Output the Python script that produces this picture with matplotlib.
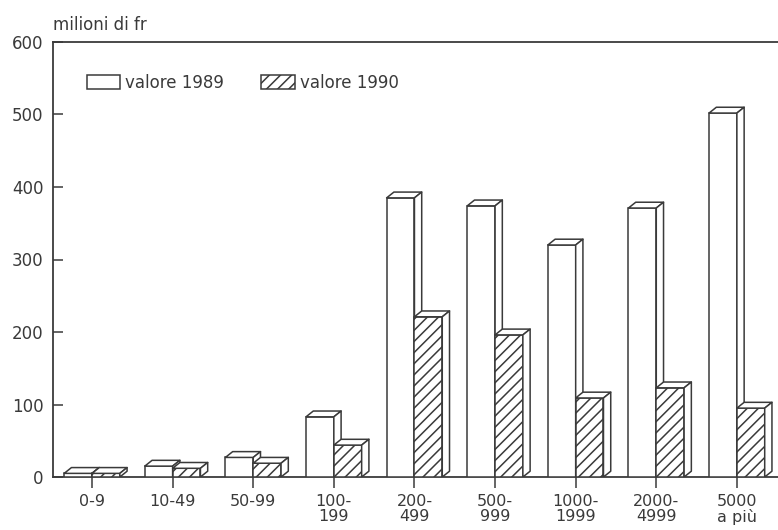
import matplotlib.pyplot as plt
from matplotlib.patches import Polygon, Patch

# classi di ampiezza e valori (milioni di franchi)
classi = ['0-9', '10-49', '50-99', '100-\n199', '200-\n499', '500-\n999',
          '1000-\n1999', '2000-\n4999', '5000\na più']
valore_1989 = [5, 15, 27, 83, 385, 374, 320, 371, 502]
valore_1990 = [5, 12, 19, 44, 221, 196, 109, 123, 95]

INK = '#3a3a3a'
W = 0.345      # larghezza faccia frontale
DX = 0.09      # profondita' orizzontale
DY = 8         # profondita' verticale (unita' dati)

plt.rcParams['font.family'] = ['DejaVu Sans']
plt.rcParams['hatch.linewidth'] = 1.1
plt.rcParams['hatch.color'] = INK

fig = plt.figure(figsize=(7.78, 5.30), dpi=100)
ax = fig.add_axes([53 / 778, 53 / 530, 725 / 778, 435 / 530])


def bar3d(x0, h, hatch, z):
    ax.bar(x0, h, width=W, align='edge', facecolor='white', edgecolor=INK,
           linewidth=1.1, hatch=hatch, zorder=z)
    top = [(x0, h), (x0 + W, h), (x0 + W + DX, h + DY), (x0 + DX, h + DY)]
    side = [(x0 + W, 0), (x0 + W + DX, DY), (x0 + W + DX, h + DY), (x0 + W, h)]
    for pts in (top, side):
        ax.add_patch(Polygon(pts, closed=True, facecolor='white', edgecolor=INK,
                             linewidth=1.1, zorder=z, joinstyle='round'))


for i, (a, b) in enumerate(zip(valore_1989, valore_1990)):
    bar3d(i - W, a, None, 3 + 2 * i)
    bar3d(i, b, '///', 4 + 2 * i)

ax.set_xlim(-0.484, 8.51)
ax.set_ylim(0, 600)
ax.set_xticks(range(len(classi)))
ax.set_xticklabels(classi, fontsize=11.5, color=INK, linespacing=1.0)
ax.set_yticks(range(0, 601, 100))
ax.tick_params(axis='y', direction='in', length=7, width=1.1, pad=7,
               labelsize=12, labelcolor=INK, color=INK)
ax.tick_params(axis='x', direction='out', length=8, width=1.1, pad=4,
               color=INK)
for s in ['left', 'bottom', 'top']:
    ax.spines[s].set_color(INK)
    ax.spines[s].set_linewidth(1.3)
ax.spines['right'].set_visible(False)

handles = [Patch(facecolor='white', edgecolor=INK, linewidth=1.1),
           Patch(facecolor='white', edgecolor=INK, linewidth=1.1, hatch='///')]
ax.legend(handles, ['valore 1989', 'valore 1990'], ncol=2, frameon=False,
          loc='upper left', bbox_to_anchor=(0.035, 0.946), borderpad=0,
          handlelength=2.0, handleheight=0.95, handletextpad=0.3,
          columnspacing=2.25, fontsize=12, labelcolor=INK)

fig.text(53 / 778, 1 - 25 / 530, 'milioni di fr', fontsize=12, color=INK,
         ha='left', va='center')

plt.savefig('out.png', dpi=100)
plt.close()
